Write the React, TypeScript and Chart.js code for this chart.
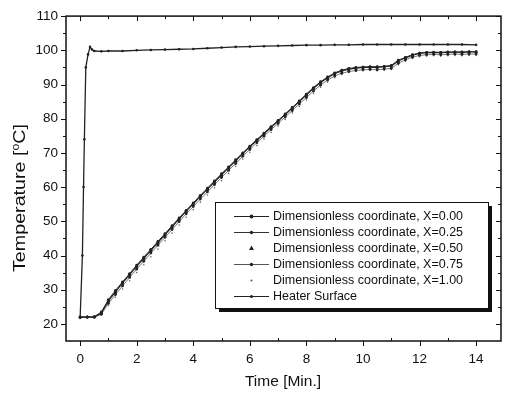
import React, { useEffect, useRef } from "react";
import { Chart, registerables } from "chart.js";

Chart.register(...registerables);

const slabTimes = [0,0.25,0.5,0.75,1,1.25,1.5,1.75,2,2.25,2.5,2.75,3,3.25,3.5,3.75,4,4.25,4.5,4.75,5,5.25,5.5,5.75,6,6.25,6.5,6.75,7,7.25,7.5,7.75,8,8.25,8.5,8.75,9,9.25,9.5,9.75,10,10.25,10.5,10.75,11,11.25,11.5,11.75,12,12.25,12.5,12.75,13,13.25,13.5,13.75,14];
const x000 = [22,22,22,23.2,26.8,29.4,32.0,34.4,36.9,39.2,41.5,43.8,46.1,48.4,50.7,53.0,55.1,57.3,59.4,61.5,63.6,65.7,67.7,69.8,71.8,73.7,75.6,77.5,79.3,81.2,83.1,85.0,87.0,88.9,90.6,92.0,93.2,94.0,94.5,94.8,95.0,95.1,95.0,95.2,95.4,96.9,97.8,98.6,99.1,99.3,99.4,99.3,99.4,99.5,99.4,99.5,99.5];
const x025 = [22,22,22.1,23.5,27.1,29.8,32.3,34.7,37.2,39.5,41.8,44.1,46.4,48.7,51.0,53.2,55.4,57.6,59.7,61.8,63.9,65.9,68.0,70.0,72.0,73.9,75.8,77.7,79.5,81.4,83.3,85.2,87.2,89.1,90.8,92.2,93.4,94.2,94.7,95.0,95.1,95.2,95.2,95.3,95.6,97.1,97.9,98.7,99.2,99.4,99.4,99.4,99.5,99.5,99.5,99.6,99.6];
const x050 = [22,22,22,23.0,26.5,29.0,31.6,34.1,36.5,38.8,41.2,43.5,45.8,48.1,50.4,52.7,54.8,57.0,59.1,61.2,63.3,65.4,67.4,69.5,71.5,73.5,75.4,77.3,79.1,81.0,82.9,84.8,86.7,88.6,90.3,91.8,93.0,93.8,94.3,94.6,94.8,94.9,94.9,95.0,95.2,96.6,97.6,98.4,98.9,99.1,99.2,99.2,99.3,99.3,99.3,99.4,99.4];
const x075 = [22,22,22,22.8,26.0,28.6,31.1,33.6,36.0,38.3,40.7,43.0,45.3,47.6,49.9,52.2,54.3,56.5,58.6,60.7,62.8,64.9,66.9,69.0,71.0,73.0,74.9,76.8,78.6,80.5,82.4,84.3,86.2,88.1,89.8,91.3,92.5,93.3,93.8,94.1,94.3,94.4,94.3,94.5,94.7,96.2,97.2,98.0,98.5,98.7,98.8,98.7,98.8,98.9,98.8,98.9,98.9];
const x100 = [22,22,22,22.6,25.4,27.8,30.2,32.6,35.0,37.3,39.6,41.9,44.3,46.6,48.9,51.2,53.4,55.6,57.7,59.8,61.9,64.0,66.1,68.2,70.2,72.2,74.1,76.0,77.9,79.8,81.7,83.6,85.5,87.4,89.2,90.7,92.0,92.9,93.5,93.8,94.0,94.1,94.0,94.2,94.4,95.8,96.8,97.6,98.1,98.3,98.4,98.3,98.4,98.5,98.4,98.5,98.5];

const heaterTimes = [0,0.08,0.12,0.15,0.2,0.28,0.35,0.42,0.5,0.75,1,1.5,2,2.5,3,3.5,4,4.5,5,5.5,6,6.5,7,7.5,8,8.5,9,9.5,10,10.5,11,11.5,12,12.5,13,13.5,14];
const heaterValues = [21.8,40,60,74,95,98.8,101,100.2,99.8,99.7,99.8,99.8,100.0,100.1,100.2,100.3,100.4,100.6,100.8,101.0,101.1,101.2,101.3,101.4,101.5,101.5,101.6,101.6,101.7,101.7,101.7,101.7,101.7,101.7,101.7,101.7,101.6];

const seriesLabels = [
  "Dimensionless coordinate, X=0.00",
  "Dimensionless coordinate, X=0.25",
  "Dimensionless coordinate, X=0.50",
  "Dimensionless coordinate, X=0.75",
  "Dimensionless coordinate, X=1.00",
  "Heater Surface",
];
const xTickValues = [0, 2, 4, 6, 8, 10, 12, 14];
const yTickValues = [20, 30, 40, 50, 60, 70, 80, 90, 100, 110];

const toPts = (xs: number[], ys: number[]) => xs.map((x, i) => ({ x, y: ys[i] }));

const FONT = "Arial, 'Liberation Sans', sans-serif";

const framePlugin = {
  id: "frame",
  afterDraw(chart: any) {
    const ctx = chart.ctx;
    const { left, right, top, bottom } = chart.chartArea;
    const xs = chart.scales.x;
    const ys = chart.scales.y;
    ctx.save();
    ctx.strokeStyle = "#111";
    ctx.lineWidth = 1.5;
    ctx.strokeRect(left, top, right - left, bottom - top);
    ctx.lineWidth = 1;
    for (let v = 0; v <= 14; v += 1) {
      const px = Math.round(xs.getPixelForValue(v)) + 0.5;
      const major = v % 2 === 0;
      ctx.beginPath();
      if (major) {
        ctx.moveTo(px, bottom);
        ctx.lineTo(px, bottom + 5);
        ctx.moveTo(px, top);
        ctx.lineTo(px, top + 5);
      } else {
        ctx.moveTo(px, bottom);
        ctx.lineTo(px, bottom - 3);
        ctx.moveTo(px, top);
        ctx.lineTo(px, top + 3);
      }
      ctx.stroke();
    }
    for (let v = 20; v <= 110; v += 5) {
      const py = Math.round(ys.getPixelForValue(v)) + 0.5;
      const major = v % 10 === 0;
      const len = major ? 5 : 3;
      ctx.beginPath();
      ctx.moveTo(left, py);
      ctx.lineTo(left - len, py);
      ctx.moveTo(right, py);
      ctx.lineTo(right - len, py);
      ctx.stroke();
    }
    // axis titles
    ctx.fillStyle = "#111";
    ctx.font = `15.5px ${FONT}`;
    ctx.textAlign = "center";
    ctx.textBaseline = "middle";
    ctx.fillText("Time [Min.]", 283, 382);
    ctx.save();
    ctx.translate(21, 198);
    ctx.rotate(-Math.PI / 2);
    const a = "Temperature [";
    const b = "o";
    const c = "C]";
    ctx.font = `16px ${FONT}`;
    const wa = ctx.measureText(a).width;
    const wc = ctx.measureText(c).width;
    ctx.font = `10px ${FONT}`;
    const wb = ctx.measureText(b).width;
    const total = wa + wb + wc;
    ctx.scale(148 / total, 1);
    const x0 = -total / 2;
    ctx.textAlign = "left";
    ctx.font = `16px ${FONT}`;
    ctx.fillText(a, x0, 0);
    ctx.font = `10px ${FONT}`;
    ctx.fillText(b, x0 + wa, -5);
    ctx.font = `16px ${FONT}`;
    ctx.fillText(c, x0 + wa + wb, 0);
    ctx.restore();

    // legend
    const lx = 215, ly = 202, lw = 273, lh = 106;
    ctx.fillStyle = "#111";
    ctx.fillRect(lx + 4, ly + 4, lw, lh);
    ctx.fillStyle = "#fff";
    ctx.fillRect(lx, ly, lw, lh);
    ctx.strokeStyle = "#111";
    ctx.lineWidth = 1;
    ctx.strokeRect(lx + 0.5, ly + 0.5, lw, lh);
    chart.data.datasets.forEach((ds: any, i: number) => {
      const cy = 216 + i * 16;
      if (ds.showLine !== false) {
        ctx.strokeStyle = ds.borderColor;
        ctx.lineWidth = 1;
        ctx.beginPath();
        ctx.moveTo(234, cy + 0.5);
        ctx.lineTo(269, cy + 0.5);
        ctx.stroke();
      }
      ctx.fillStyle = ds.pointBackgroundColor;
      if (ds.pointStyle === "triangle") {
        ctx.beginPath();
        ctx.moveTo(251.5, cy - 2.5);
        ctx.lineTo(254, cy + 2);
        ctx.lineTo(249, cy + 2);
        ctx.closePath();
        ctx.fill();
      } else {
        ctx.beginPath();
        ctx.arc(251.5, cy + 0.5, ds.pointRadius + 0.3, 0, Math.PI * 2);
        ctx.fill();
      }
      ctx.fillStyle = "#111";
      ctx.font = `12.5px ${FONT}`;
      ctx.textAlign = "left";
      ctx.textBaseline = "middle";
      ctx.fillText(ds.label, 273, cy + 1);
    });
    ctx.restore();
  },
};

export default function App() {
  const ref = useRef<HTMLCanvasElement>(null);
  useEffect(() => {
    document.body.style.margin = "0";
    const mk = (label: string, data: any[], opts: any) => ({
      label,
      data,
      borderColor: "#222",
      backgroundColor: "#222",
      pointBackgroundColor: "#222",
      pointBorderWidth: 0,
      borderWidth: 1,
      ...opts,
    });
    const chart = new Chart(ref.current!, {
      type: "scatter",
      data: {
        datasets: [
          mk(seriesLabels[0], toPts(slabTimes, x000), { showLine: true, pointRadius: 1.6, borderWidth: 1.2 }),
          mk(seriesLabels[1], toPts(slabTimes, x025), { showLine: true, pointRadius: 1.4, borderColor: "#333" }),
          mk(seriesLabels[2], toPts(slabTimes, x050), { showLine: false, pointStyle: "triangle", pointRadius: 1.8 }),
          mk(seriesLabels[3], toPts(slabTimes, x075), { showLine: true, pointRadius: 1.4, borderColor: "#555", borderWidth: 0.8 }),
          mk(seriesLabels[4], toPts(slabTimes, x100), { showLine: false, pointRadius: 0.8, pointBackgroundColor: "#666" }),
          mk(seriesLabels[5], toPts(heaterTimes, heaterValues), { showLine: true, pointRadius: 1.3, borderWidth: 1.3 }),
        ],
      },
      options: {
        responsive: false,
        animation: false,
        layout: { padding: { top: 15, right: 2, left: 0, bottom: 0 } },
        plugins: { legend: { display: false }, tooltip: { enabled: false } },
        scales: {
          x: {
            type: "linear",
            min: -0.5,
            max: 14.88,
            afterBuildTicks: (s: any) => {
              s.ticks = xTickValues.map((v) => ({ value: v }));
            },
            afterFit: (s: any) => {
              s.height = 53;
            },
            grid: { display: false, drawTicks: false },
            border: { display: false },
            ticks: { color: "#111", font: { family: FONT, size: 13.5 }, padding: 10, maxRotation: 0 },
          },
          y: {
            type: "linear",
            min: 15,
            max: 110,
            afterBuildTicks: (s: any) => {
              s.ticks = yTickValues.map((v) => ({ value: v }));
            },
            afterFit: (s: any) => {
              s.width = 66;
            },
            grid: { display: false, drawTicks: false },
            border: { display: false },
            ticks: { color: "#111", font: { family: FONT, size: 13.5 }, padding: 8 },
          },
        },
      },
      plugins: [framePlugin],
    });
    return () => chart.destroy();
  }, []);
  return (
    <div style={{ width: 505, height: 394 }}>
      <canvas ref={ref} width={505} height={394} style={{ display: "block" }} />
    </div>
  );
}
